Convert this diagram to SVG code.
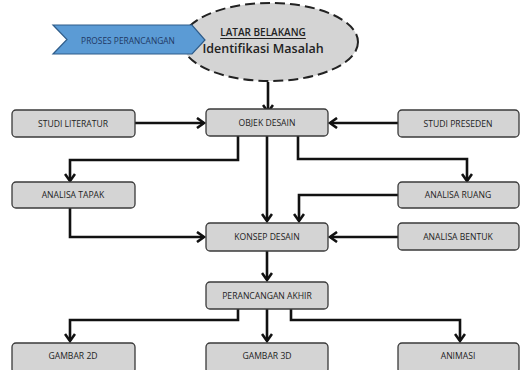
<svg xmlns="http://www.w3.org/2000/svg" width="520" height="370" viewBox="0 0 520 370">
<style>
.box{fill:#d4d4d4;stroke:#3a3a3a;stroke-width:1.3}
.t{font-family:"Open Sans","Liberation Sans",sans-serif;font-size:8.6px;fill:#222;text-anchor:middle;dominant-baseline:central}
.c{fill:none;stroke:#111;stroke-width:2.6;marker-end:url(#ah)}
</style>
<defs>
<marker id="ah" markerWidth="12" markerHeight="12" refX="9" refY="6" orient="auto" markerUnits="userSpaceOnUse">
<path d="M2,1 L9,6 L2,11" fill="none" stroke="#111" stroke-width="2.6"/>
</marker>
</defs>
<rect width="520" height="370" fill="#fff"/>
<g id="latar">
<ellipse cx="270" cy="42" rx="88" ry="39" fill="#d4d4d4" stroke="#222" stroke-width="2" stroke-dasharray="10,5"/>
<text x="263" y="32" class="t" style="font-size:10px;font-weight:600;text-decoration:underline">LATAR BELAKANG</text>
<text x="263" y="48" class="t" style="font-size:12.5px;font-weight:600">Identifikasi Masalah</text>
</g>
<g id="proses">
<polygon points="53,25 192,25 205,40 192,54 53,54 67,39.5" fill="#5b9bd5" stroke="#2e5c8a" stroke-width="1.2"/>
<text x="128" y="40" class="t" style="fill:#1f3864;font-size:8.4px">PROSES PERANCANGAN</text>
</g>
<g id="connectors">
<path class="c" d="M268,82 V112"/>
<path class="c" d="M135,123 H204"/>
<path class="c" d="M398,123 H330"/>
<path class="c" d="M238,136 V160 H70 V181"/>
<path class="c" d="M267,136 V221"/>
<path class="c" d="M298,136 V159 H467 V181"/>
<path class="c" d="M398,195 H299 V221"/>
<path class="c" d="M70,208 V237 H204"/>
<path class="c" d="M398,237 H330"/>
<path class="c" d="M267,251 V280"/>
<path class="c" d="M238,309 V320 H70 V341"/>
<path class="c" d="M267,309 V341"/>
<path class="c" d="M291,309 V320 H460 V341"/>
</g>
<g id="studi-literatur"><rect class="box" x="12" y="110" width="123" height="27" rx="4"/><text class="t" x="73" y="123.5">STUDI LITERATUR</text></g>
<g id="objek-desain"><rect class="box" x="206" y="109" width="122" height="27" rx="4"/><text class="t" x="267" y="122.5">OBJEK DESAIN</text></g>
<g id="studi-preseden"><rect class="box" x="398" y="110" width="121" height="27" rx="4"/><text class="t" x="458" y="123.5">STUDI PRESEDEN</text></g>
<g id="analisa-tapak"><rect class="box" x="12" y="182" width="123" height="26" rx="4"/><text class="t" x="73" y="195">ANALISA TAPAK</text></g>
<g id="analisa-ruang"><rect class="box" x="398" y="182" width="121" height="26" rx="4"/><text class="t" x="458" y="195">ANALISA RUANG</text></g>
<g id="konsep-desain"><rect class="box" x="206" y="223" width="122" height="28" rx="4"/><text class="t" x="267" y="237">KONSEP DESAIN</text></g>
<g id="analisa-bentuk"><rect class="box" x="398" y="223" width="121" height="27" rx="4"/><text class="t" x="458" y="236.5">ANALISA BENTUK</text></g>
<g id="perancangan-akhir"><rect class="box" x="206" y="282" width="122" height="27" rx="4"/><text class="t" x="267" y="295.5">PERANCANGAN AKHIR</text></g>
<g id="gambar-2d"><rect class="box" x="12" y="343" width="123" height="30" rx="4"/><text class="t" x="73" y="356">GAMBAR 2D</text></g>
<g id="gambar-3d"><rect class="box" x="206" y="343" width="122" height="30" rx="4"/><text class="t" x="267" y="356">GAMBAR 3D</text></g>
<g id="animasi"><rect class="box" x="398" y="343" width="121" height="30" rx="4"/><text class="t" x="458" y="356">ANIMASI</text></g>
</svg>
